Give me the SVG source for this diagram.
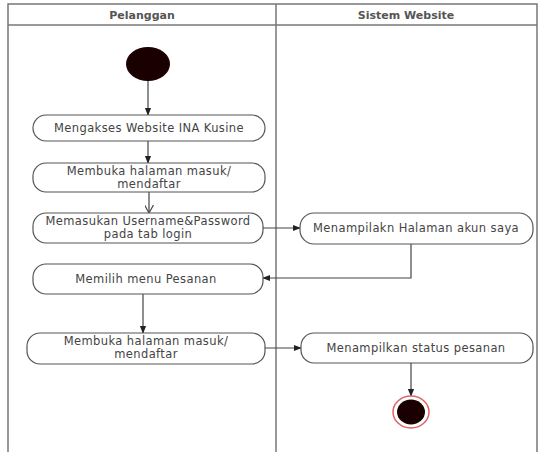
<svg xmlns="http://www.w3.org/2000/svg" width="540" height="452" viewBox="0 0 540 452">
<style>
.lane{fill:none;stroke:#777;stroke-width:1.5}
.hdr{font-family:"DejaVu Sans","Liberation Sans",sans-serif;font-size:11px;font-weight:bold;fill:#555;text-anchor:middle}
.act{fill:#fff;stroke:#555;stroke-width:1.2}
.txt{font-family:"DejaVu Sans","Liberation Sans",sans-serif;font-size:11.5px;letter-spacing:0.4px;fill:#444;text-anchor:middle}
.con{fill:none;stroke:#444;stroke-width:1.2}
</style>
<defs>
<marker id="ah" viewBox="0 0 10 10" refX="9" refY="5" markerWidth="8" markerHeight="8" orient="auto" markerUnits="userSpaceOnUse">
<path d="M0,1 L10,5 L0,9 Z" fill="#222"/>
</marker>
<marker id="oh" viewBox="0 0 10 10" refX="9" refY="5" markerWidth="9" markerHeight="9" orient="auto" markerUnits="userSpaceOnUse">
<path d="M0,0 L9,5 L0,10" fill="none" stroke="#444" stroke-width="1.3"/>
</marker>
</defs>
<rect width="540" height="452" fill="#fff"/>
<g id="swimlanes">
<rect class="lane" x="8" y="4" width="529" height="450"/>
<line class="lane" x1="8" y1="25" x2="537" y2="25"/>
<line class="lane" x1="276" y1="4" x2="276" y2="452"/>
<text class="hdr" x="142" y="19">Pelanggan</text>
<text class="hdr" x="406" y="19">Sistem Website</text>
</g>
<g id="connectors">
<line class="con" x1="148" y1="81" x2="148" y2="115" marker-end="url(#ah)"/>
<line class="con" x1="148" y1="141" x2="148" y2="163" marker-end="url(#ah)"/>
<line class="con" x1="149" y1="192" x2="149" y2="213" marker-end="url(#oh)"/>
<line class="con" x1="263" y1="228" x2="300" y2="228" marker-end="url(#ah)"/>
<polyline class="con" points="411,244 411,278 263,278" marker-end="url(#ah)"/>
<line class="con" x1="143" y1="294" x2="143" y2="333" marker-end="url(#ah)"/>
<line class="con" x1="265" y1="348" x2="301" y2="348" marker-end="url(#ah)"/>
<line class="con" x1="411" y1="363" x2="411" y2="396" marker-end="url(#ah)"/>
</g>
<g id="start">
<ellipse cx="148" cy="64" rx="22" ry="17" fill="#1a0000"/>
</g>
<g id="a1">
<rect class="act" x="33" y="115" width="232" height="26" rx="13"/>
<text class="txt" x="149" y="132">Mengakses Website INA Kusine</text>
</g>
<g id="a2">
<rect class="act" x="33" y="163" width="232" height="29" rx="13"/>
<text class="txt" x="149" y="175">Membuka halaman masuk/</text>
<text class="txt" x="149" y="188">mendaftar</text>
</g>
<g id="a3">
<rect class="act" x="33" y="213" width="230" height="30" rx="13"/>
<text class="txt" x="148" y="225">Memasukan Username&amp;Password</text>
<text class="txt" x="148" y="238">pada tab login</text>
</g>
<g id="a4">
<rect class="act" x="33" y="264" width="230" height="30" rx="13"/>
<text class="txt" x="146" y="283">Memilih menu Pesanan</text>
</g>
<g id="a5">
<rect class="act" x="27" y="333" width="238" height="31" rx="13"/>
<text class="txt" x="146" y="345">Membuka halaman masuk/</text>
<text class="txt" x="146" y="358">mendaftar</text>
</g>
<g id="b1">
<rect class="act" x="300" y="213" width="233" height="31" rx="14"/>
<text class="txt" x="416" y="232">Menampilakn Halaman akun saya</text>
</g>
<g id="b2">
<rect class="act" x="301" y="333" width="232" height="30" rx="13"/>
<text class="txt" x="416" y="352">Menampilkan status pesanan</text>
</g>
<g id="end">
<ellipse cx="411" cy="412" rx="18" ry="16" fill="#fff" stroke="#e06060" stroke-width="1.5"/>
<ellipse cx="411" cy="412" rx="14" ry="12.5" fill="#1a0000"/>
</g>
</svg>
